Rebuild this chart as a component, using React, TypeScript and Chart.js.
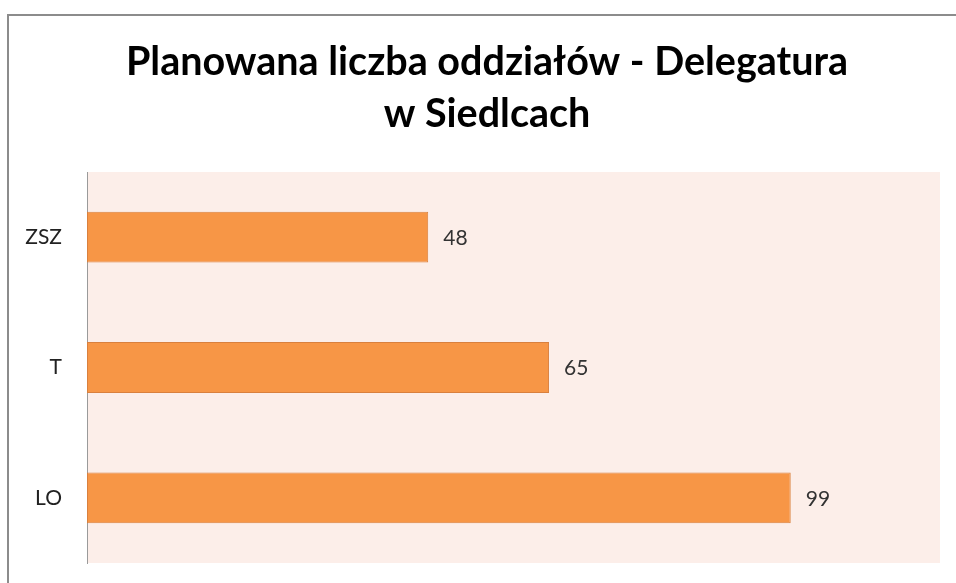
import React, { useEffect, useRef } from "react";
import { Chart, registerables } from "chart.js";

Chart.register(...registerables);

const categories = ["ZSZ", "T", "LO"];
const values = [48, 65, 99];
const titleLines = ["Planowana liczba oddziałów - Delegatura", "w Siedlcach"];
const axisMax = 120;

const plotBg = {
  id: "plotBg",
  beforeDraw(chart: any) {
    const { ctx, chartArea } = chart;
    ctx.save();
    ctx.fillStyle = "#FCEEE9";
    ctx.fillRect(chartArea.left, chartArea.top, chartArea.right - chartArea.left, chartArea.bottom - chartArea.top);
    ctx.restore();
  },
};

const titleText = {
  id: "titleText",
  afterDraw(chart: any) {
    const { ctx } = chart;
    ctx.save();
    ctx.font = "bold 39.5px Lato";
    ctx.fillStyle = "#000000";
    ctx.textAlign = "center";
    ctx.textBaseline = "alphabetic";
    titleLines.forEach((line, i) => {
      ctx.fillText(line, 487, 75 + i * 52);
    });
    ctx.restore();
  },
};

const valueLabels = {
  id: "valueLabels",
  afterDatasetsDraw(chart: any) {
    const { ctx } = chart;
    const meta = chart.getDatasetMeta(0);
    ctx.save();
    ctx.font = "21px Lato";
    ctx.fillStyle = "#333333";
    ctx.textAlign = "left";
    ctx.textBaseline = "middle";
    meta.data.forEach((bar: any, i: number) => {
      ctx.fillText(String(chart.data.datasets[0].data[i]), bar.x + 15, bar.y + 1);
    });
    ctx.restore();
  },
};

export default function App() {
  const ref = useRef<HTMLCanvasElement>(null);
  useEffect(() => {
    if (!ref.current) return;
    const chart = new Chart(ref.current, {
      type: "bar",
      data: {
        labels: categories,
        datasets: [
          {
            data: values,
            backgroundColor: "#F79646",
            borderColor: "#D9803E",
            borderWidth: 1,
            borderSkipped: false,
            categoryPercentage: 1,
            barPercentage: 0.39,
          },
        ],
      },
      options: {
        indexAxis: "y",
        animation: false,
        responsive: false,
        maintainAspectRatio: false,
        layout: { padding: { left: 0, right: 16, top: 172, bottom: 20 } },
        plugins: {
          legend: { display: false },
          tooltip: { enabled: false },
          title: { display: false },
        },
        scales: {
          x: { display: false, min: 0, max: axisMax },
          y: {
            grid: { display: true, drawOnChartArea: false, drawTicks: true, tickLength: 25, color: "rgba(0,0,0,0)" },
            border: { display: true, color: "#9A9A9A", width: 1 },
            ticks: { color: "#222222", font: { family: "Lato", size: 21 }, padding: 0 },
            afterFit(scale: any) {
              scale.width = 87;
            },
          },
        },
      },
      plugins: [plotBg, valueLabels, titleText],
    });
    return () => chart.destroy();
  }, []);
  return (
    <div style={{ position: "fixed", left: 0, top: 0, width: 956, height: 583, background: "#fff", overflow: "hidden" }}>
      <div
        style={{
          position: "absolute",
          left: 7,
          top: 14,
          width: 1200,
          height: 1000,
          borderLeft: "2px solid #8C8C8C",
          borderTop: "2px solid #8C8C8C",
        }}
      />
      <canvas ref={ref} width={956} height={583} style={{ position: "absolute", left: 0, top: 0 }} />
    </div>
  );
}
